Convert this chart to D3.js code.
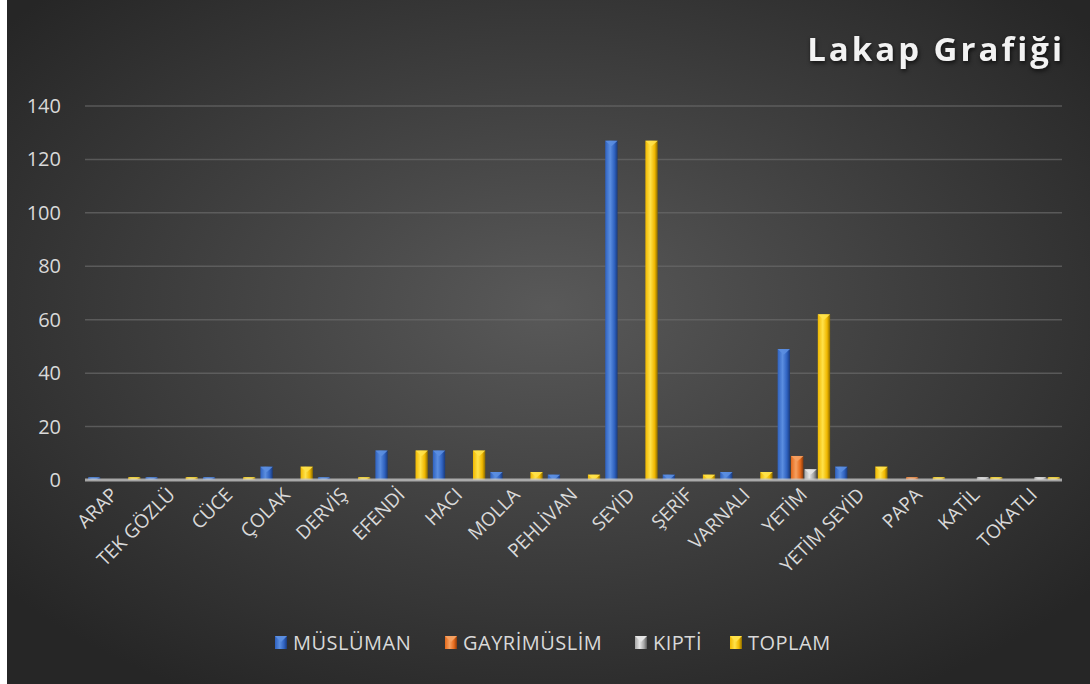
<!DOCTYPE html>
<html>
<head>
<meta charset="utf-8">
<script src="https://cdn.jsdelivr.net/npm/d3@7"></script>
<style>
  body { margin: 0; background: #fff; }
  svg { display: block; }
</style>
</head>
<body>
<svg id="chart" width="1090" height="684"></svg>
<script>
var categories = ["ARAP", "TEK GÖZLÜ", "CÜCE", "ÇOLAK", "DERVİŞ", "EFENDİ", "HACI", "MOLLA", "PEHLİVAN",
  "SEYİD", "ŞERİF", "VARNALI", "YETİM", "YETİM SEYİD", "PAPA", "KATİL", "TOKATLI"];
var seriesNames = ["MÜSLÜMAN", "GAYRİMÜSLİM", "KIPTİ", "TOPLAM"];
var muslim    = [1, 1, 1, 5, 1, 11, 11, 3, 2, 127, 2, 3, 49, 5, 0, 0, 0];
var gayri     = [0, 0, 0, 0, 0, 0, 0, 0, 0, 0, 0, 0, 9, 0, 1, 0, 0];
var kipti     = [0, 0, 0, 0, 0, 0, 0, 0, 0, 0, 0, 0, 4, 0, 0, 1, 1];
var toplam    = [1, 1, 1, 5, 1, 11, 11, 3, 2, 127, 2, 3, 62, 5, 1, 1, 1];
var yTicks = [0, 20, 40, 60, 80, 100, 120, 140];

var seriesValues = [muslim, gayri, kipti, toplam];
var colors = [
  {light: "#5b8ee0", mid: "#2f62c0", dark: "#1a3a7a"},
  {light: "#f6a060", mid: "#e56a1c", dark: "#8a3a0a"},
  {light: "#e6e6e6", mid: "#a6a6a6", dark: "#5a5a5a"},
  {light: "#ffe24a", mid: "#f0b800", dark: "#8a6a00"}
];

var svg = d3.select("#chart"),
  width = +svg.attr("width"),
  height = +svg.attr("height");

var defs = svg.append("defs");
var bg = defs.append("radialGradient").attr("id", "bg")
  .attr("cx", "50%").attr("cy", "45%").attr("r", "65%");
bg.append("stop").attr("offset", "0%").attr("stop-color", "#595959");
bg.append("stop").attr("offset", "100%").attr("stop-color", "#262626");

colors.forEach(function(c, i) {
  var g = defs.append("linearGradient").attr("id", "bar" + i)
    .attr("x1", "0%").attr("x2", "100%").attr("y1", "0%").attr("y2", "0%");
  g.append("stop").attr("offset", "0%").attr("stop-color", c.mid);
  g.append("stop").attr("offset", "40%").attr("stop-color", c.light);
  g.append("stop").attr("offset", "75%").attr("stop-color", c.mid);
  g.append("stop").attr("offset", "100%").attr("stop-color", c.dark);
});

svg.append("rect").attr("x", 7).attr("y", 0).attr("width", width - 7).attr("height", height)
  .attr("fill", "url(#bg)");

var margin = {left: 85, right: 28, top: 106, bottom: 204};
var x = d3.scaleBand().domain(categories).range([margin.left, width - margin.right]).paddingInner(0).paddingOuter(0);
var x1 = d3.scaleBand().domain(d3.range(4)).range([3, x.bandwidth() - 2]).paddingInner(0.08);
var y = d3.scaleLinear().domain([0, 140]).range([height - margin.bottom, margin.top]);

// gridlines
svg.append("g").selectAll("line").data(yTicks.slice(1)).enter().append("line")
  .attr("x1", margin.left).attr("x2", width - margin.right)
  .attr("y1", function(d) { return y(d); }).attr("y2", function(d) { return y(d); })
  .attr("stroke", "#6a6a6a").attr("stroke-width", 1.5).attr("opacity", 0.7);

// y axis labels
svg.append("g").selectAll("text").data(yTicks).enter().append("text")
  .attr("x", 61).attr("y", function(d) { return y(d); }).attr("dy", "0.35em")
  .attr("text-anchor", "end")
  .attr("font-family", "Open Sans, sans-serif").attr("font-size", 20)
  .attr("fill", "#d9d9d9")
  .text(function(d) { return d; });

// bars
var groups = svg.append("g").selectAll("g").data(categories).enter().append("g")
  .attr("transform", function(d) { return "translate(" + x(d) + ",0)"; });

groups.each(function(cat, ci) {
  var g = d3.select(this);
  seriesValues.forEach(function(vals, si) {
    var v = vals[ci];
    if (!v) return;
    var bx = x1(si), bw = x1.bandwidth(), top = y(v), h = y(0) - top;
    g.append("rect").attr("x", bx).attr("y", top).attr("width", bw).attr("height", h)
      .attr("fill", "url(#bar" + si + ")");
    var capH = Math.min(bw * 0.45, h);
    g.append("path")
      .attr("d", "M" + bx + "," + top + "L" + (bx + bw) + "," + top + "L" + (bx + bw / 2) + "," + (top + capH) + "Z")
      .attr("fill", colors[si].light).attr("opacity", 0.9);
  });
});

// floor line
svg.append("line").attr("x1", margin.left).attr("x2", width - margin.right)
  .attr("y1", y(0)).attr("y2", y(0))
  .attr("stroke", "#c4c4c4").attr("stroke-width", 3).attr("opacity", 0.8);

// x labels
svg.append("g").selectAll("text").data(categories).enter().append("text")
  .attr("transform", function(d) { return "translate(" + (x(d) + x.bandwidth() / 2 + 5) + "," + 496 + ") rotate(-45)"; })
  .attr("text-anchor", "end")
  .attr("font-family", "Open Sans, sans-serif").attr("font-size", 19)
  .attr("fill", "#d9d9d9")
  .text(function(d) { return d; });

// title
svg.append("text").attr("x", 1065).attr("y", 61).attr("text-anchor", "end")
  .attr("font-family", "Open Sans, sans-serif").attr("font-weight", "bold").attr("font-size", 33)
  .attr("letter-spacing", 3).attr("fill", "#f2f2f2")
  .style("filter", "drop-shadow(1px 2px 2px rgba(0,0,0,0.7))")
  .text("Lakap Grafiği");

// legend
var legendX = [275, 445, 635, 730];
var legend = svg.append("g").selectAll("g").data(seriesNames).enter().append("g")
  .attr("transform", function(d, i) { return "translate(" + legendX[i] + ",636)"; });
legend.append("rect").attr("width", 12).attr("height", 13)
  .attr("fill", function(d, i) { return "url(#bar" + i + ")"; });
legend.append("path").attr("d", "M0,0L12,0L6,6Z")
  .attr("fill", function(d, i) { return colors[i].light; });
legend.append("text").attr("x", 18).attr("y", 6.5).attr("dy", "0.35em")
  .attr("font-family", "Open Sans, sans-serif").attr("font-size", 20)
  .attr("letter-spacing", 0.5)
  .attr("fill", "#d9d9d9")
  .text(function(d) { return d; });
</script>
</body>
</html>
